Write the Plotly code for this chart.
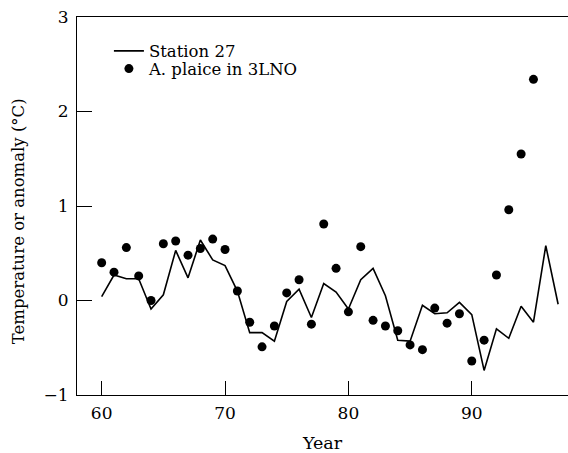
import plotly.graph_objects as go

years_line = list(range(60, 98))
station27 = [0.04, 0.27, 0.23, 0.23, -0.09, 0.06, 0.53, 0.24, 0.64, 0.43,
             0.37, 0.10, -0.34, -0.34, -0.43, -0.01, 0.12, -0.18, 0.18, 0.09,
             -0.09, 0.22, 0.34, 0.05, -0.42, -0.43, -0.05, -0.14, -0.13, -0.02,
             -0.15, -0.74, -0.30, -0.40, -0.06, -0.23, 0.58, -0.04]

years_pts = list(range(60, 96))
plaice = [0.40, 0.30, 0.56, 0.26, 0.00, 0.60, 0.63, 0.48, 0.55, 0.65,
          0.54, 0.10, -0.23, -0.49, -0.27, 0.08, 0.22, -0.25, 0.81, 0.34,
          -0.12, 0.57, -0.21, -0.27, -0.32, -0.47, -0.52, -0.08, -0.24, -0.14,
          -0.64, -0.42, 0.27, 0.96, 1.55, 2.34]

x_ticks = [60, 70, 80, 90]
y_ticks = [-1, 0, 1, 2, 3]
y_tick_text = ["\u22121", "0", "1", "2", "3"]

FONT = "DejaVu Serif"

fig = go.Figure()
fig.add_trace(go.Scatter(x=years_line, y=station27, mode="lines", name="Station 27",
                         line=dict(color="black", width=1.6), legend="legend"))
fig.add_trace(go.Scatter(x=years_pts, y=plaice, mode="markers", name="A. plaice in 3LNO",
                         marker=dict(color="black", size=9), legend="legend2"))

leg_common = dict(xanchor="left", yanchor="top", bgcolor="rgba(0,0,0,0)",
                  font=dict(family=FONT, size=16.5), itemwidth=30)

fig.update_layout(
    width=568, height=453,
    margin=dict(l=77, r=0, t=17, b=58),
    paper_bgcolor="white", plot_bgcolor="white",
    font=dict(family=FONT, size=17, color="black"),
    showlegend=True,
    legend=dict(x=0.065, y=0.956, **leg_common),
    legend2=dict(x=0.065, y=0.909, **leg_common),
    xaxis=dict(range=[58, 97.8], tickvals=x_ticks, ticks="inside", ticklen=14,
               tickcolor="black", tickwidth=1, showline=True, linecolor="black",
               linewidth=1, mirror=True, showgrid=False, zeroline=False,
               ticklabelstandoff=3,
               tickfont=dict(family=FONT, size=17),
               title=dict(text="Year", standoff=16, font=dict(family=FONT, size=17.5))),
    yaxis=dict(range=[-1, 3], tickvals=y_ticks, ticktext=y_tick_text, ticks="inside",
               ticklen=15, tickcolor="black", tickwidth=1, showline=True,
               linecolor="black", linewidth=1, showgrid=False, zeroline=False,
               ticklabelstandoff=4,
               tickfont=dict(family=FONT, size=17)),
    annotations=[dict(text="Temperature or anomaly (\u00b0C)", xref="paper", yref="paper",
                      x=-0.12, y=0.46, textangle=-90, showarrow=False,
                      xanchor="center", yanchor="middle",
                      font=dict(family=FONT, size=16.5))],
)

fig.write_html("out.html")
